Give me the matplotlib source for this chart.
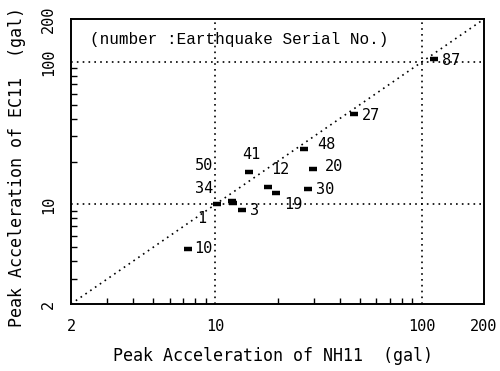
import numpy as np
import matplotlib.pyplot as plt
from matplotlib.ticker import FixedLocator, NullFormatter

# peak accelerations (gal)
nh11 = [10.2, 12.0, 12.2, 13.4, 14.6, 18.0, 19.6, 26.9, 29.7, 28.2, 46.8, 114.5, 7.4]
ec11 = [10.1, 10.6, 10.2, 9.2, 17.0, 13.3, 12.1, 24.4, 17.7, 12.8, 42.9, 104.8, 4.9]
quake_no = ['34', '50', '1', '3', '41', '12', '19', '48', '20', '30', '27', '87', '10']

tick_vals = [2, 10, 100, 200]
tick_text = ['2', '10', '100', '200']

# label offsets in pixels (right, down)
offs = [(-13, -15), (-28, -35), (-31, 15), (13, 1), (2, -17), (12, -17), (18, 12),
        (22, -5), (21, -3), (17, 0), (17, 1), (17, 1), (15, 0)]

mono = 'DejaVu Sans Mono'
fs = 11

fig = plt.figure(figsize=(5, 3.71), dpi=100)
ax = fig.add_axes([0.142, 0.1806, 0.826, 0.768])
ax.set_xscale('log')
ax.set_yscale('log')
ax.set_xlim(2, 200)
ax.set_ylim(2, 200)

# y = x line and grid lines at 10, 100
ax.plot([2, 200], [2, 200], color='k', ls=(0, (1, 2.5)), lw=1.2)
for v in [10, 100]:
    ax.axvline(v, color='k', ls=(0, (1, 2.5)), lw=1.2)
    ax.axhline(v, color='k', ls=(0, (1, 2.5)), lw=1.2)

ax.plot(nh11, ec11, ls='none', marker='_', ms=5.5, mew=3.2, color='k')

px = 0.72
for x, y, t, (dx, dy) in zip(nh11, ec11, quake_no, offs):
    ax.annotate(t, (x, y), xytext=(dx * px, -dy * px), textcoords='offset points',
                ha='center', va='center', family=mono, fontsize=fs)

ax.text(0.045, 0.955, '(number :Earthquake Serial No.)', transform=ax.transAxes,
        ha='left', va='top', family='Liberation Mono', fontsize=11.5)

minor = [3, 4, 5, 6, 7, 8, 9, 20, 30, 40, 50, 60, 70, 80, 90]
for axis in [ax.xaxis, ax.yaxis]:
    axis.set_major_locator(FixedLocator(tick_vals))
    axis.set_minor_locator(FixedLocator(minor))
    axis.set_minor_formatter(NullFormatter())
ax.set_xticklabels(tick_text, family=mono, fontsize=fs)
ax.set_yticklabels(tick_text, family=mono, fontsize=fs, rotation=90, va='center')
ax.tick_params(which='major', length=0, pad=11)
ax.tick_params(which='minor', direction='in', length=4, width=1)

for s in ax.spines.values():
    s.set_linewidth(1.4)

ax.set_xlabel('Peak Acceleration of NH11  (gal)', family=mono, fontsize=12)
ax.set_ylabel('Peak Acceleration of EC11  (gal)', family=mono, fontsize=12)
ax.xaxis.set_label_coords(0.49, -0.15)
ax.yaxis.set_label_coords(-0.11, 0.48)

fig.savefig('out.png', dpi=100)
